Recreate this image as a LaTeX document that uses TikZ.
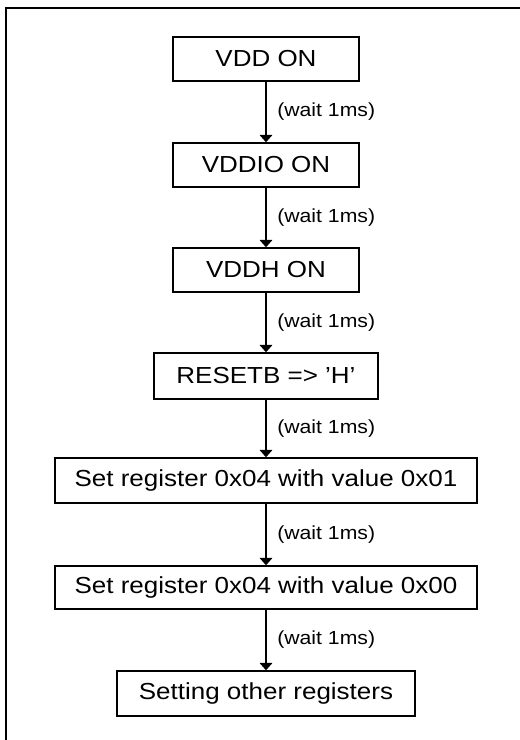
\documentclass[tikz,border=0pt]{standalone}
\usepackage{fontspec}
\setmainfont{Liberation Sans}[FakeStretch=1.12]
\usetikzlibrary{arrows.meta}
\newcommand\boxfont{\fontsize{17.4}{20}\selectfont}
\newcommand\lblfont{\fontsize{14.2}{16}\selectfont}
\tikzset{
  bx/.style={draw, line width=1.1pt, inner sep=0pt, font=\boxfont},
  arr/.style={line width=1pt, -{Triangle[width=9.5pt,length=5.5pt]}},
  lbl/.style={anchor=west, inner sep=0pt, xshift=8pt, font=\lblfont},
  frame/.style={line width=1.2pt}
}
\begin{document}
\begin{tikzpicture}[x=0.75pt,y=-0.75pt]
\useasboundingbox (0,0) rectangle (520,740);
\draw[frame] (6,740) -- (6,8) -- (520,8);
\node[bx, minimum width=139.5pt, minimum height=33pt] (b1) at (266,59) {VDD ON};
\node[bx, minimum width=139.5pt, minimum height=33pt] (b2) at (266,165) {VDDIO ON};
\node[bx, minimum width=139.5pt, minimum height=33pt] (b3) at (266,270) {VDDH ON};
\node[bx, minimum width=168pt, minimum height=34.5pt] (b4) at (266,376) {RESETB => ’H’};
\node[bx, minimum width=316.5pt, minimum height=33.75pt] (b5) at (266,480.5) {Set register 0x04 with value 0x01};
\node[bx, minimum width=316.5pt, minimum height=32.25pt] (b6) at (266,587.5) {Set register 0x04 with value 0x00};
\node[bx, minimum width=223.5pt, minimum height=33.75pt] (b7) at (266,693.5) {Setting other registers};
\draw[arr] (b1.south) -- (b2.north) node[midway, lbl] (l1) {(wait 1ms)};
\draw[arr] (b2.south) -- (b3.north) node[midway, lbl] (l2) {(wait 1ms)};
\draw[arr] (b3.south) -- (b4.north) node[midway, lbl] (l3) {(wait 1ms)};
\draw[arr] (b4.south) -- (b5.north) node[midway, lbl] (l4) {(wait 1ms)};
\draw[arr] (b5.south) -- (b6.north) node[midway, lbl] (l5) {(wait 1ms)};
\draw[arr] (b6.south) -- (b7.north) node[midway, lbl] (l6) {(wait 1ms)};
\end{tikzpicture}
\end{document}
